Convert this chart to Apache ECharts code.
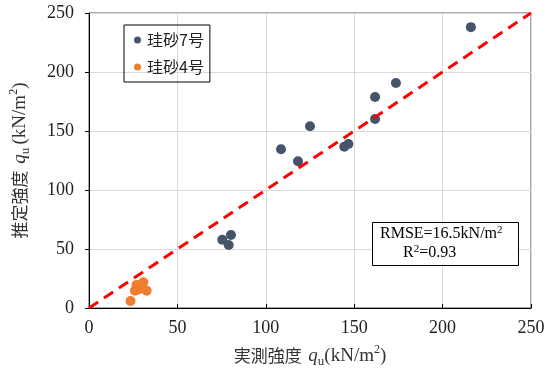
<!DOCTYPE html>
<html><head><meta charset="utf-8">
<script src="https://cdn.jsdelivr.net/npm/echarts@6/dist/echarts.min.js"></script>
<style>html,body{margin:0;padding:0;background:#fff}#c{width:555px;height:373px}</style>
</head><body><div id="c"></div>
<script>
const seriesNames = ['珪砂7号', '珪砂4号'];
const sand7 = [
  [75.4, 57.9], [80.3, 61.9], [79.0, 53.4],
  [108.6, 134.5], [118.2, 124.3], [125.0, 154.0],
  [144.4, 136.7], [146.7, 139.0], [161.8, 160.2],
  [161.8, 178.8], [173.6, 190.7], [216.0, 238.0]
];
const sand4 = [
  [23.5, 5.9], [26.0, 14.7], [27.9, 15.8], [30.7, 21.8],
  [29.7, 18.6], [32.6, 14.7], [26.9, 19.5]
];
const lineOfEquality = [[0, 0], [250, 250]];
const axisMin = 0, axisMax = 250, axisStep = 50;

const serif = '"Liberation Serif", "Times New Roman", serif';
const jp = '"Noto Sans CJK JP", sans-serif';
const nameRich = {
  jp: {fontFamily: jp, fontSize: 17, color: '#333', lineHeight: 24},
  it: {fontFamily: serif, fontStyle: 'italic', fontSize: 19, color: '#333', lineHeight: 24},
  sub: {fontFamily: serif, fontSize: 13, color: '#333', lineHeight: 13, verticalAlign: 'bottom'},
  n: {fontFamily: serif, fontSize: 19, color: '#333', lineHeight: 24},
  sup: {fontFamily: serif, fontSize: 12, color: '#333', lineHeight: 13, verticalAlign: 'top'}
};

const chart = echarts.init(document.getElementById('c'));
chart.setOption({
  animation: false,
  backgroundColor: '#fff',
  grid: {left: 89, right: 24, top: 13, bottom: 65, show: true, borderColor: '#555', borderWidth: 1},
  xAxis: {
    type: 'value', min: axisMin, max: axisMax, interval: axisStep,
    axisLine: {show: true, onZero: false, lineStyle: {color: '#000', width: 1}},
    axisTick: {show: true, inside: true, length: 4, lineStyle: {color: '#000'}},
    splitLine: {show: true, lineStyle: {color: '#d9d9d9', width: 1}},
    axisLabel: {fontFamily: serif, fontSize: 18, color: '#222', margin: 11},
    name: '{jp|実測強度}  {it|q}{sub|u}{n|(kN/m}{sup|2}{n|)}',
    nameLocation: 'middle', nameGap: 36,
    nameTextStyle: {rich: nameRich}
  },
  yAxis: {
    type: 'value', min: axisMin, max: axisMax, interval: axisStep,
    axisLine: {show: true, onZero: false, lineStyle: {color: '#000', width: 1}},
    axisTick: {show: true, inside: false, length: 4, lineStyle: {color: '#000'}},
    splitLine: {show: true, lineStyle: {color: '#d9d9d9', width: 1}},
    axisLabel: {fontFamily: serif, fontSize: 18, color: '#222', margin: 15},
    name: '{jp|推定強度}  {it|q}{sub|u} {n|(kN/m}{sup|2}{n|)}',
    nameLocation: 'middle', nameGap: 57, nameRotate: 90,
    nameTextStyle: {rich: nameRich}
  },
  legend: {
    orient: 'vertical', left: 124, top: 25,
    data: seriesNames,
    icon: 'circle', itemWidth: 7, itemHeight: 7, itemGap: 9,
    borderColor: '#000', borderWidth: 1,
    padding: [6, 6, 6, 10],
    textStyle: {fontFamily: jp, fontSize: 16, color: '#222', padding: [0, 0, 0, 1], lineHeight: 18}
  },
  series: [
    {name: seriesNames[0], type: 'scatter', data: sand7, symbolSize: 10,
     itemStyle: {color: '#44546A', opacity: 1}, z: 3},
    {name: seriesNames[1], type: 'scatter', data: sand4, symbolSize: 10,
     itemStyle: {color: '#ED7D31', opacity: 1}, z: 3},
    {name: 'line', type: 'line', data: lineOfEquality, symbol: 'none',
     lineStyle: {color: '#FF0000', width: 3, type: [11, 7]}, z: 4, silent: true}
  ],
  graphic: [
    {type: 'rect', left: 372, top: 222, shape: {width: 146, height: 43},
     style: {fill: '#fff', stroke: '#000', lineWidth: 1}, z: 10},
    {type: 'text', left: 380, top: 225, z: 11,
     style: {text: '{n|RMSE=16.5kN/m}{sup|2}', rich: {
       n: {fontFamily: serif, fontSize: 16, fill: '#000', lineHeight: 18},
       sup: {fontFamily: serif, fontSize: 11, fill: '#000', lineHeight: 11, verticalAlign: 'top'}}}},
    {type: 'text', left: 403, top: 244, z: 11,
     style: {text: '{n|R}{sup|2}{n|=0.93}', rich: {
       n: {fontFamily: serif, fontSize: 16, fill: '#000', lineHeight: 18},
       sup: {fontFamily: serif, fontSize: 11, fill: '#000', lineHeight: 11, verticalAlign: 'top'}}}}
  ]
});
</script></body></html>
